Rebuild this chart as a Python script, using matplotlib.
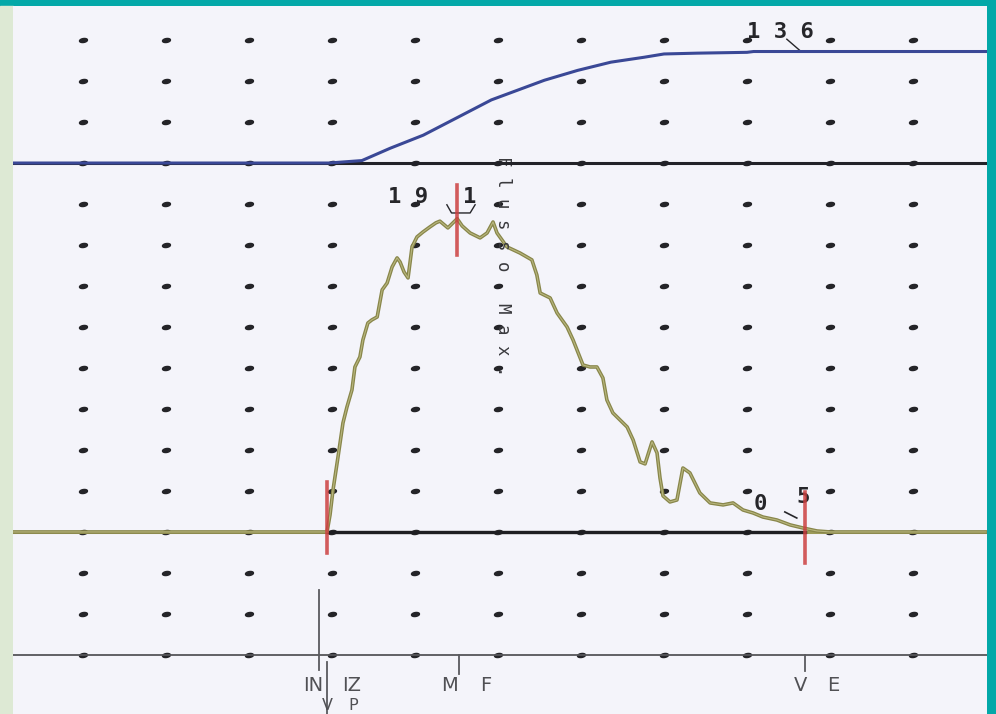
import matplotlib.pyplot as plt
from matplotlib.patches import Rectangle
import numpy as np

# uroflowmetry trace, time in s (one grid column = 2.5 s)
flow_t = [0.4, 9.85, 9.94, 10.03, 10.18, 10.33, 10.45, 10.60, 10.69, 10.84, 10.93,
          11.08, 11.20, 11.36, 11.51, 11.66, 11.81, 11.96, 12.05, 12.17, 12.29,
          12.41, 12.56, 12.74, 12.95, 13.13, 13.25, 13.49, 13.77, 13.92, 14.16,
          14.46, 14.67, 14.85, 14.97, 15.27, 15.66, 16.02, 16.17, 16.27, 16.57,
          16.78, 17.08, 17.26, 17.56, 17.77, 17.98, 18.16, 18.28, 18.46, 18.89,
          19.07, 19.28, 19.43, 19.64, 19.79, 19.88, 19.97, 20.18, 20.39, 20.57,
          20.78, 21.08, 21.39, 21.78, 22.08, 22.38, 22.68, 22.98, 23.40, 23.80,
          24.19, 24.61, 25.00, 29.7]
# flow rate, ml/s
flow = [0, 0, 1.04, 2.56, 4.57, 6.65, 7.62, 8.66, 10.06, 10.67, 11.71,
        12.74, 12.93, 13.11, 14.76, 15.18, 16.16, 16.71, 16.46, 15.85, 15.49,
        17.38, 17.99, 18.29, 18.60, 18.85, 18.95, 18.54, 19.1, 18.66, 18.23,
        17.93, 18.23, 18.9, 18.23, 17.38, 17.01, 16.59, 15.67, 14.57, 14.27,
        13.35, 12.5, 11.71, 10.18, 10.06, 10.06, 9.39, 8.05, 7.26, 6.40,
        5.61, 4.27, 4.15, 5.49, 4.82, 3.29, 2.20, 1.83, 1.95, 3.90,
        3.60, 2.38, 1.77, 1.65, 1.77, 1.34, 1.16, 0.91, 0.73, 0.43,
        0.24, 0.06, 0, 0]

# voided volume, ml
vol_t = [0.4, 9.9, 10.9, 11.75, 12.75, 13.8, 14.8, 15.6, 16.4, 17.4, 18.4,
         19.4, 20.0, 21.0, 22.5, 22.7, 29.7]
vol = [0, 0, 3, 18, 34, 56, 77, 89, 101, 113, 123, 129, 133, 134, 135, 136, 136]

t_start, t_qmax, t_end = 9.85, 13.77, 24.25
q_max = 19.1
v_total = 136

fig = plt.figure(figsize=(9.96, 7.14), dpi=100, facecolor='#03a8a8')
rect = [13 / 996, 0, 974 / 996, 708 / 714]
fig.patches.append(Rectangle((0, 0), 13 / 996, 708 / 714, transform=fig.transFigure,
                             color='#dde9d4', zorder=-1))

ax = fig.add_axes(rect)
ax.set_facecolor('#f4f4fa')
ax.set_xlim(0.39, 29.73)
ax.set_ylim(-11.10, 32.07)
ax.set_xticks([])
ax.set_yticks([])
for s in ax.spines.values():
    s.set_visible(False)

ax2 = ax.twinx()
ax2.set_ylim(-671.9, 191.5)
ax2.set_axis_off()

# dotted grid
gx = np.arange(1, 12) * 2.5
gy = np.arange(0, 16) * 2.5 - 7.5
GX, GY = np.meshgrid(gx, gy)
a = np.linspace(0, 2 * np.pi, 20)
blob = list(zip(np.cos(a), 0.5 * np.sin(a) + 0.12 * np.cos(a)))
ax.plot(GX.ravel(), GY.ravel(), ls='none', marker=blob, ms=5.8, color='#242428', zorder=1)

# baselines
ax.axhline(-7.5, color='#555559', lw=1.3, zorder=2)
ax.plot([0.39, 29.73], [0, 0], color='#9c9a58', lw=2.2, zorder=2)
ax.plot([t_start, t_end], [0, 0], color='#1e1e22', lw=2.4, zorder=3)
ax2.axhline(0, color='#222228', lw=2.2, zorder=2)

# traces
ax2.plot(vol_t, vol, color='#3a4896', lw=2.2, zorder=4)
ax.plot(flow_t, flow, color='#88864a', lw=2.6, zorder=4)
ax.plot(flow_t, flow, color='#b8b67e', lw=0.8, zorder=4)

# red cursors
red = '#cc4040'
ax.plot([t_start, t_start], [-1.28, 3.05], color=red, lw=2.6, alpha=0.85, zorder=5)
ax.plot([t_qmax, t_qmax], [16.89, 21.16], color=red, lw=2.6, alpha=0.85, zorder=5)
ax.plot([t_end, t_end], [-1.89, 2.44], color=red, lw=2.6, alpha=0.85, zorder=5)

# value labels
mono = dict(family='DejaVu Sans Mono', fontweight='bold', color='#26262a',
            ha='center', va='center', fontsize=16)
vs = str(v_total)
ax2.text(23.5, 160, ' '.join(vs), **mono)
ax2.plot([23.7, 24.1], [151, 137], color='#26262a', lw=1)
qs = f'{q_max:.1f}'
ax.text(12.29, 20.4, ' '.join(qs.split('.')[0]), **mono)
ax.text(14.16, 20.4, qs.split('.')[1], **mono)
ax.plot([13.46, 13.6, 14.16, 14.31], [19.95, 19.45, 19.45, 19.95], color='#26262a', lw=1)
ax.text(22.9, 1.7, '0', **mono)
ax.text(24.19, 2.15, '5', **mono)
ax.plot([23.64, 24.0], [1.22, 0.85], color='#26262a', lw=1.2)

ax.text(15.15, 16.2, 'F l u s s o   M a x .', rotation=-90, family='DejaVu Sans Mono',
        fontsize=12.5, color='#3a3a3e', ha='center', va='center', zorder=6)

# event marks on the lower line
ev = '#5a5a5e'
ax.plot([9.61, 9.61], [-3.54, -8.41], color=ev, lw=1.3)
ax.plot([9.85, 9.85], [-7.93, -11.1], color=ev, lw=1.3)
ax.plot([13.83, 13.83], [-7.5, -8.66], color=ev, lw=1.3)
ax.plot([24.25, 24.25], [-7.5, -8.5], color=ev, lw=1.3)
lab = dict(color='#505054', fontsize=14, ha='center', va='center')
ax.text(9.43, -9.35, 'IN', **lab)
ax.text(10.6, -9.35, 'IZ', **lab)
ax.text(9.85, -11.04, 'V', color='#505054', fontsize=11.5, ha='center', va='bottom')
ax.text(10.63, -11.04, 'P', color='#505054', fontsize=11.5, ha='center', va='bottom')
ax.text(13.55, -9.35, 'M', **lab)
ax.text(14.64, -9.35, 'F', **lab)
ax.text(24.1, -9.35, 'V', **lab)
ax.text(25.09, -9.35, 'E', **lab)

fig.savefig('out.png', dpi=100, facecolor=fig.get_facecolor())
